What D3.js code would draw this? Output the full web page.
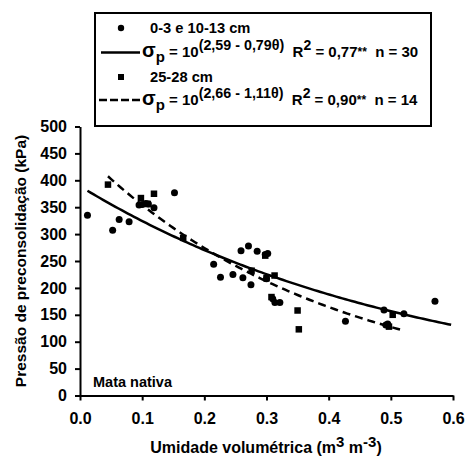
<!DOCTYPE html>
<html>
<head>
<meta charset="utf-8">
<script src="https://cdn.jsdelivr.net/npm/d3@7"></script>
<style>
  body { margin: 0; background: #fff; }
  svg { font-family: "Liberation Sans", Arial, sans-serif; font-weight: bold; }
  text { white-space: pre; }
</style>
</head>
<body>
<svg width="465" height="461"></svg>
<script>
// camada 0-3 e 10-13 cm (círculos)
const thetaA = [0.012, 0.0525, 0.063, 0.079, 0.095, 0.106, 0.110, 0.119, 0.152, 0.100,
                0.215, 0.226, 0.246, 0.262, 0.259, 0.271, 0.275, 0.285, 0.302, 0.298,
                0.3135, 0.3215, 0.300, 0.310, 0.427, 0.489, 0.495, 0.521, 0.571, 0.492];
const sigmaA = [335, 307, 327, 323, 354, 357, 356, 349, 377, 355,
                244, 220, 225, 219, 269, 278, 206, 268, 264, 262,
                173, 173, 217, 180, 138, 159, 133, 152, 175, 131];

// camada 25-28 cm (quadrados)
const thetaB = [0.045, 0.098, 0.119, 0.166, 0.276, 0.298, 0.300, 0.308, 0.313, 0.350,
                0.352, 0.497, 0.503, 0.109];
const sigmaB = [392, 367, 375, 293, 232, 260, 218, 183, 223, 158,
                123, 128, 150, 356];

// coeficientes das regressões: sigma = 10^(a - b*theta), [a, b, thetaMin, thetaMax]
const fitA = [2.59, 0.79, 0.012, 0.6];
const fitB = [2.66, 1.11, 0.045, 0.52];

const xTicks = [0, 0.1, 0.2, 0.3, 0.4, 0.5, 0.6];
const yTicks = [0, 50, 100, 150, 200, 250, 300, 350, 400, 450, 500];

const svg = d3.select("svg");

const x = d3.scaleLinear().domain([0, 0.6]).range([80, 453]);
const y = d3.scaleLinear().domain([0, 500]).range([395.5, 126.5]);

// eixos
const gx = svg.append("g")
    .attr("transform", "translate(0,395.5)")
    .call(d3.axisBottom(x).tickValues(xTicks).tickFormat(d3.format(".1f"))
        .tickSize(5).tickSizeOuter(0).tickPadding(12));
const gy = svg.append("g")
    .attr("transform", "translate(80,0)")
    .call(d3.axisLeft(y).tickValues(yTicks).tickSize(5).tickSizeOuter(0).tickPadding(8));

[gx, gy].forEach(g => {
    g.select(".domain").attr("stroke", "#000").attr("stroke-width", 2);
    g.selectAll(".tick line").attr("stroke", "#000").attr("stroke-width", 2);
    g.selectAll(".tick text").attr("fill", "#000")
        .style("font-size", "16px").style("font-weight", "bold");
    g.attr("font-family", null).attr("font-size", null);
});

// curvas ajustadas
function fitCurve(f) {
    return d3.range(f[2], f[3] + 1e-9, 0.005).map(t => [t, Math.pow(10, f[0] - f[1] * t)]);
}
const line = d3.line().x(d => x(d[0])).y(d => y(d[1]));

svg.append("path").datum(fitCurve(fitA))
    .attr("d", line).attr("fill", "none").attr("stroke", "#000").attr("stroke-width", 2.5);
svg.append("path").datum(fitCurve(fitB))
    .attr("d", line).attr("fill", "none").attr("stroke", "#000").attr("stroke-width", 2.5)
    .attr("stroke-dasharray", "8,5");

// pontos
svg.append("g").selectAll("circle")
    .data(d3.zip(thetaA, sigmaA))
    .join("circle")
    .attr("cx", d => x(d[0]))
    .attr("cy", d => y(d[1]))
    .attr("r", 3.5)
    .attr("fill", "#000");

const s = 6.5;
svg.append("g").selectAll("rect")
    .data(d3.zip(thetaB, sigmaB))
    .join("rect")
    .attr("x", d => x(d[0]) - s / 2)
    .attr("y", d => y(d[1]) - s / 2)
    .attr("width", s).attr("height", s)
    .attr("fill", "#000");

// títulos
svg.append("text")
    .attr("transform", "translate(26,261) rotate(-90)")
    .attr("text-anchor", "middle")
    .style("font-size", "15.5px")
    .text("Pressão de preconsolidação (kPa)");

const xt = svg.append("text")
    .attr("x", 266).attr("y", 453)
    .attr("text-anchor", "middle")
    .style("font-size", "16px");
xt.append("tspan").text("Umidade volumétrica (m");
xt.append("tspan").attr("dy", -6).style("font-size", "15px").text("3");
xt.append("tspan").attr("dy", 6).text(" m");
xt.append("tspan").attr("dy", -6).style("font-size", "15px").text("-3");
xt.append("tspan").attr("dy", 6).text(")");

svg.append("text")
    .attr("x", 93).attr("y", 387)
    .style("font-size", "14.5px")
    .text("Mata nativa");

// legenda
svg.append("rect")
    .attr("x", 95).attr("y", 13).attr("width", 336).attr("height", 113)
    .attr("fill", "#fff").attr("stroke", "#000").attr("stroke-width", 2);

svg.append("circle").attr("cx", 121).attr("cy", 28).attr("r", 3.2).attr("fill", "#000");
svg.append("rect").attr("x", 118).attr("y", 74).attr("width", 6).attr("height", 6).attr("fill", "#000");
svg.append("line").attr("x1", 101).attr("x2", 140).attr("y1", 52.5).attr("y2", 52.5)
    .attr("stroke", "#000").attr("stroke-width", 2.5);
svg.append("line").attr("x1", 99).attr("x2", 140).attr("y1", 100).attr("y2", 100)
    .attr("stroke", "#000").attr("stroke-width", 2.5).attr("stroke-dasharray", "8,3");

const legendRows = [
    { y: 33, label: "0-3 e 10-13 cm" },
    { y: 82, label: "25-28 cm" }
];
legendRows.forEach(r => {
    svg.append("text").attr("x", 150).attr("y", r.y).style("font-size", "14.7px").text(r.label);
});

const eqRows = [
    { y: 57, a: "2,59", b: "0,79", r2: "0,77", n: 30 },
    { y: 105, a: "2,66", b: "1,11", r2: "0,90", n: 14 }
];
eqRows.forEach(r => {
    const t = svg.append("text").attr("x", 142).attr("y", r.y).style("font-size", "15px");
    t.append("tspan").style("font-size", "20px").text("σ");
    t.append("tspan").attr("dy", 5).text("p");
    t.append("tspan").attr("dy", -5).text(" = 10");
    t.append("tspan").attr("dy", -7).style("font-size", "14.3px").text(`(${r.a} - ${r.b}θ)`);
    t.append("tspan").attr("dy", 7).text("  R");
    t.append("tspan").attr("dy", -7).style("font-size", "14px").text("2");
    t.append("tspan").attr("dy", 7).text(` = ${r.r2}`);
    t.append("tspan").attr("dy", -1).style("font-size", "12px").text("**");
    t.append("tspan").attr("dy", 1).text(`  n = ${r.n}`);
});
</script>
</body>
</html>
